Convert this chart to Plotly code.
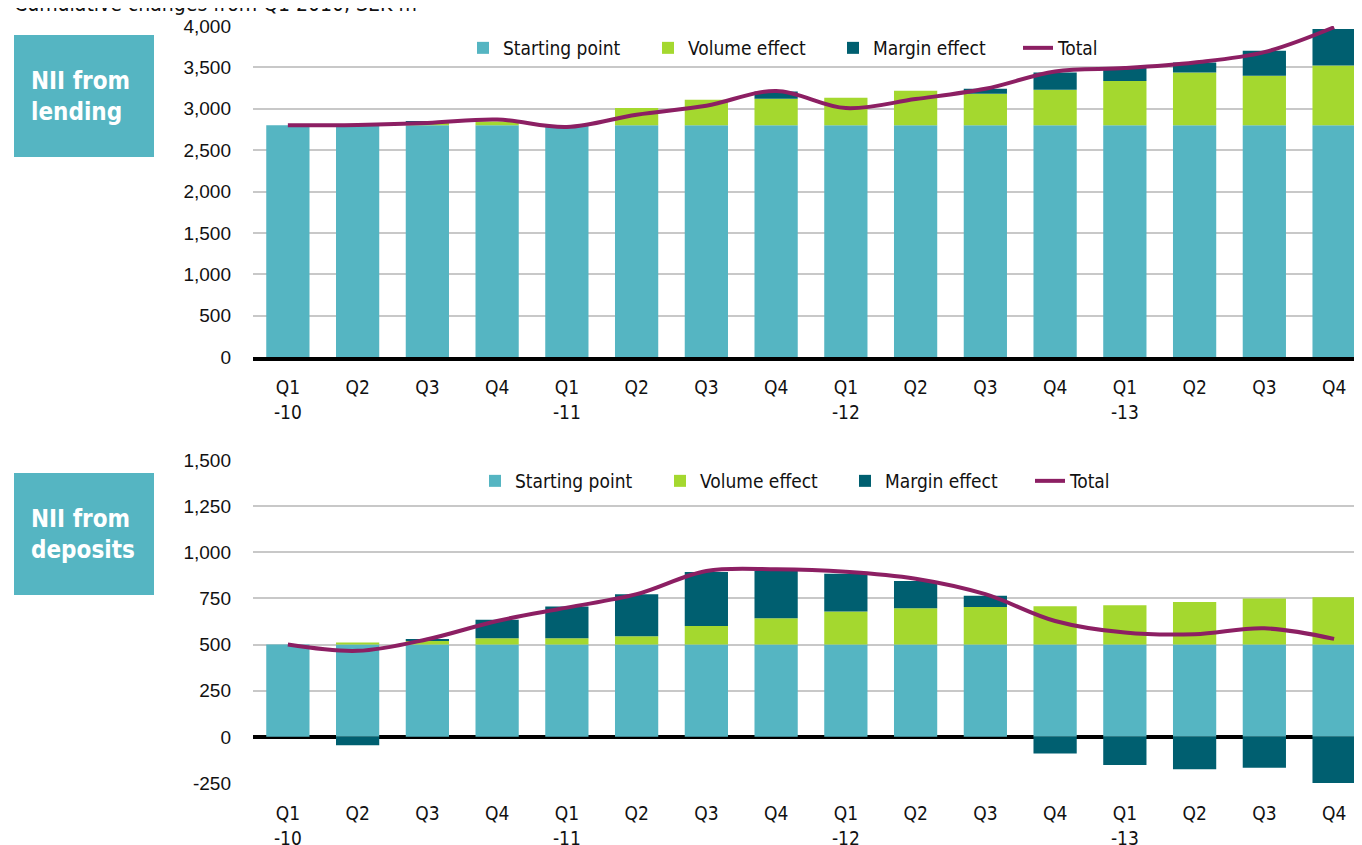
import plotly.graph_objects as go

# ---------------- data ----------------
quarters = ["Q1<br>-10", "Q2", "Q3", "Q4", "Q1<br>-11", "Q2", "Q3", "Q4",
            "Q1<br>-12", "Q2", "Q3", "Q4", "Q1<br>-13", "Q2", "Q3", "Q4"]

lend_start = [2800] * 16
lend_volume = [0, 5, 30, 47, 0, 208, 309, 321, 333, 417, 381, 429, 534, 638, 598, 723]
lend_margin = [0, 0, 17, 0, -20, 0, 0, 88, 0, 0, 60, 209, 165, 121, 302, 442]
lend_total = [2800, 2805, 2827, 2870, 2779, 2928, 3036, 3215, 3008, 3117, 3241, 3450, 3491, 3559, 3684, 3985]

dep_start = [500] * 16
dep_volume = [0, 11, 20, 34, 34, 45, 101, 143, 179, 197, 204, 208, 213, 231, 249, 256]
dep_margin = [0, -45, 9, 100, 172, 228, 292, 256, 205, 148, 61, -90, -153, -175, -168, -256]
dep_total = [500, 466, 529, 628, 700, 773, 899, 908, 895, 857, 773, 628, 565, 556, 588, 531]

lend_ticks = [0, 500, 1000, 1500, 2000, 2500, 3000, 3500, 4000]
dep_ticks = [-250, 0, 250, 500, 750, 1000, 1250, 1500]

series_names = ["Starting point", "Volume effect", "Margin effect", "Total"]

# ---------------- style ----------------
C_START = "#55b5c2"
C_VOL = "#a4d82f"
C_MARGIN = "#005f70"
C_TOTAL = "#8c1f63"
GRID = "#c8c8c8"
NARROW = "DejaVu Sans Condensed, Roboto, sans-serif"
SANS = "Liberation Sans, Arial, sans-serif"

OFF = 8  # page body margin
W, H = 1362, 845
L, R, T, B = 245, 8, 18, 70
PW, PH = W - L - R, H - T - B


def px_x(p):
    return (p - OFF - L) / PW


def px_y(p):
    return (H - B - (p - OFF)) / PH


xs = list(range(len(quarters)))

fig = go.Figure()


def add_panel(start, vol, margin, total, xa, ya, leg):
    for name, vals, col in zip(series_names[:3], [start, vol, margin], [C_START, C_VOL, C_MARGIN]):
        fig.add_trace(go.Bar(x=xs, y=vals, name=name, marker=dict(color=col, line=dict(width=0)),
                             xaxis=xa, yaxis=ya, legend=leg))
    fig.add_trace(go.Scatter(x=xs, y=total, name=series_names[3], mode="lines",
                             line=dict(color=C_TOTAL, width=4, shape="spline", smoothing=1.0),
                             xaxis=xa, yaxis=ya, legend=leg))


add_panel(lend_start, lend_volume, lend_margin, lend_total, "x", "y", "legend")
add_panel(dep_start, dep_volume, dep_margin, dep_total, "x2", "y2", "legend2")

xcommon = dict(range=[-0.5, 15.4], tickmode="array", tickvals=xs, ticktext=quarters,
               showgrid=False, zeroline=False, ticks="", automargin=False,
               tickfont=dict(family=NARROW, size=19, color="#111"))
ycommon = dict(showgrid=True, gridcolor=GRID, gridwidth=2, ticks="", ticklabelstandoff=21,
               automargin=False,
               tickfont=dict(family=SANS, size=19, color="#111"), showline=False)

top_dom = [px_y(357), px_y(26)]
bot_dom = [px_y(783), px_y(460)]

legend_common = dict(orientation="h", xanchor="left", yanchor="middle",
                     font=dict(family=NARROW, size=19, color="#111"), bgcolor="rgba(0,0,0,0)",
                     traceorder="normal", itemwidth=30, entrywidth=140, entrywidthmode="pixels")

fig.update_layout(
    width=W, height=H,
    margin=dict(l=L, r=R, t=T, b=B),
    paper_bgcolor="white", plot_bgcolor="white",
    barmode="relative", bargap=0.38,
    showlegend=True,
    xaxis=dict(**xcommon, anchor="y", domain=[0, 1], showline=True, linecolor="black", linewidth=4,
               ticklabelstandoff=10),
    yaxis=dict(**ycommon, domain=top_dom, range=[0, 4000], tickmode="array", tickvals=lend_ticks,
               ticktext=[f"{v:,}" for v in lend_ticks], zeroline=False),
    xaxis2=dict(**xcommon, anchor="y2", domain=[0, 1], showline=False, ticklabelstandoff=17),
    yaxis2=dict(**ycommon, domain=bot_dom, range=[-250, 1500], tickmode="array", tickvals=dep_ticks,
                ticktext=[f"{v:,}" for v in dep_ticks], zeroline=True, zerolinecolor="black",
                zerolinewidth=4),
    legend=dict(**legend_common, x=px_x(463), y=px_y(48)),
    legend2=dict(**legend_common, x=px_x(475), y=px_y(481)),
)

# label boxes
for (y0, y1, label) in [(35, 157, "NII from<br>lending"), (473, 595, "NII from<br>deposits")]:
    fig.add_shape(type="rect", xref="paper", yref="paper", x0=px_x(14), x1=px_x(154),
                  y0=px_y(y1), y1=px_y(y0), fillcolor=C_START, line=dict(width=0), layer="above")
    fig.add_annotation(xref="paper", yref="paper", x=px_x(29), y=px_y((y0 + y1) / 2),
                       xanchor="left", yanchor="middle", showarrow=False, align="left",
                       text=f"<b>{label}</b>",
                       font=dict(family=NARROW, size=24, color="white"))

fig.add_annotation(xref="paper", yref="paper", x=px_x(12), y=px_y(4), xanchor="left",
                   yanchor="middle", showarrow=False,
                   text="Cumulative changes from Q1 2010, SEK m",
                   font=dict(family=NARROW, size=21, color="#111"))

fig.write_html("out.html")
